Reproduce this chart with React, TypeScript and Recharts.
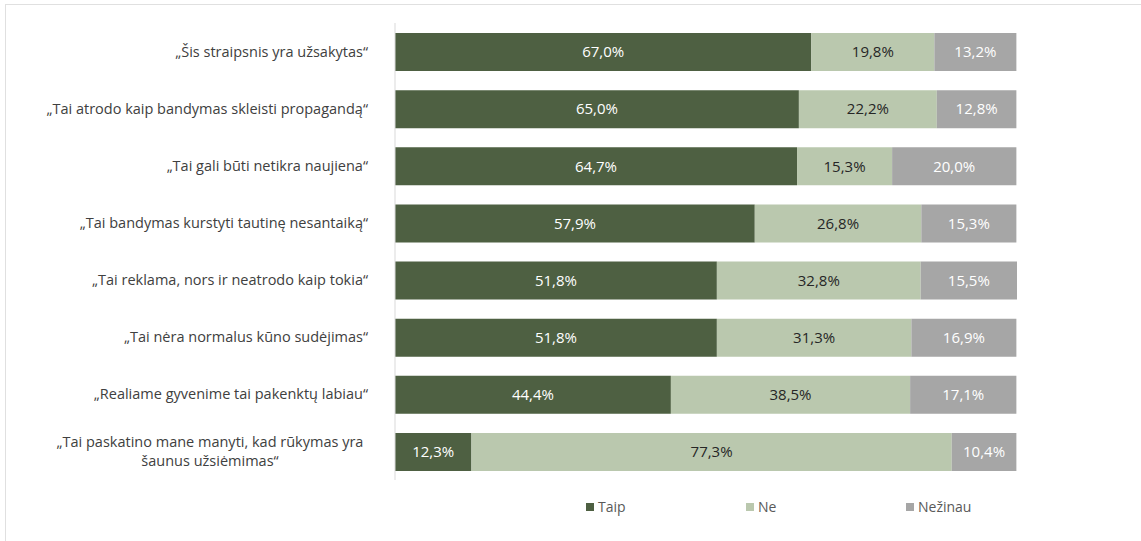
import { Bar, BarChart, LabelList, Legend, XAxis, YAxis } from "recharts";

const statements = [
  "„Šis straipsnis yra užsakytas“",
  "„Tai atrodo kaip bandymas skleisti propagandą“",
  "„Tai gali būti netikra naujiena“",
  "„Tai bandymas kurstyti tautinę nesantaiką“",
  "„Tai reklama, nors ir neatrodo kaip tokia“",
  "„Tai nėra normalus kūno sudėjimas“",
  "„Realiame gyvenime tai pakenktų labiau“",
  "„Tai paskatino mane manyti, kad rūkymas yra\nšaunus užsiėmimas“",
];
const taip = [67.0, 65.0, 64.7, 57.9, 51.8, 51.8, 44.4, 12.3];
const ne = [19.8, 22.2, 15.3, 26.8, 32.8, 31.3, 38.5, 77.3];
const nezinau = [13.2, 12.8, 20.0, 15.3, 15.5, 16.9, 17.1, 10.4];

const series = [
  { key: "taip", name: "Taip", color: "#4e6042", label: "#ffffff" },
  { key: "ne", name: "Ne", color: "#bac8ae", label: "#262626" },
  { key: "nezinau", name: "Nežinau", color: "#a6a6a6", label: "#ffffff" },
];

const data = statements.map((s, i) => ({
  statement: s,
  taip: taip[i],
  ne: ne[i],
  nezinau: nezinau[i],
}));

const font = "'Open Sans', 'Noto Sans', sans-serif";
const pct = (v: any) => `${Number(v).toFixed(1).replace(".", ",")}%`;

function StatementTick(props: any) {
  const { x, y, payload } = props;
  const lines = String(payload.value).split("\n");
  if (lines.length === 1) {
    return (
      <text x={x - 19} y={y} dy={5} textAnchor="end" fill="#404040" fontSize={14.5} fontFamily={font}>
        {lines[0]}
      </text>
    );
  }
  return (
    <text x={x - 177} y={y} textAnchor="middle" fill="#404040" fontSize={14.5} fontFamily={font}>
      {lines.map((l, i) => (
        <tspan key={i} x={x - 177} dy={i === 0 ? -4 : 19}>
          {l}
        </tspan>
      ))}
    </text>
  );
}

function LegendBox() {
  return (
    <div style={{ display: "flex", fontFamily: font, fontSize: 14, color: "#595959" }}>
      {series.map((s) => (
        <div key={s.key} style={{ width: 160, display: "flex", alignItems: "center" }}>
          <span style={{ width: 8, height: 8, background: s.color, marginRight: 4, display: "inline-block" }} />
          {s.name}
        </div>
      ))}
    </div>
  );
}

export default function App() {
  return (
    <div style={{ position: "absolute", left: 0, top: 0, width: 1141, height: 541, background: "#fff" }}>
      <div style={{ position: "absolute", left: 5, top: 4, right: 0, height: 1, background: "#e0e0e0" }} />
      <div style={{ position: "absolute", left: 5, top: 4, bottom: 0, width: 1, background: "#e0e0e0" }} />
      <BarChart
        width={1141}
        height={541}
        data={data}
        layout="vertical"
        margin={{ top: 23, right: 124, left: 0, bottom: 42 }}
      >
        <XAxis type="number" domain={[0, 100]} hide />
        <YAxis
          type="category"
          dataKey="statement"
          width={395}
          axisLine={{ stroke: "#d9d9d9" }}
          tickLine={false}
          tick={<StatementTick />}
          interval={0}
        />
        <Legend
          content={<LegendBox />}
          wrapperStyle={{ left: 586, top: 497, width: 520, bottom: "auto" }}
        />
        {series.map((s) => (
          <Bar key={s.key} dataKey={s.key} name={s.name} stackId="a" fill={s.color} barSize={38} isAnimationActive={false}>
            <LabelList
              dataKey={s.key}
              position="center"
              formatter={pct}
              fill={s.label}
              fontSize={15}
              fontFamily={font}
            />
          </Bar>
        ))}
      </BarChart>
    </div>
  );
}
